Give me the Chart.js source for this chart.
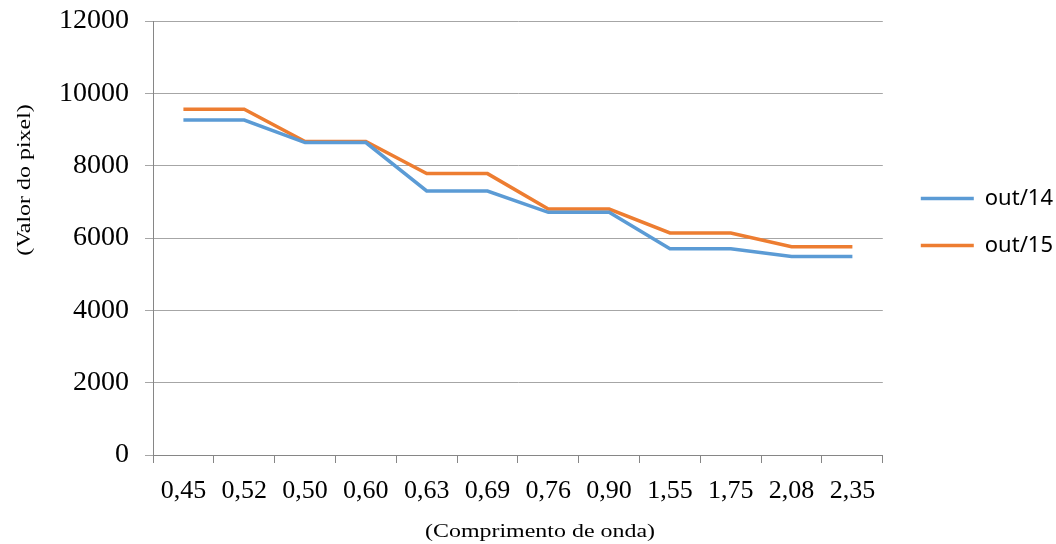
<!DOCTYPE html>
<html>
<head>
<meta charset="utf-8">
<script src="https://cdn.jsdelivr.net/npm/chart.js@4/dist/chart.umd.min.js"></script>
<style>
  html, body { margin: 0; padding: 0; background: #fff; }
</style>
</head>
<body>
<canvas id="myChart" width="1056" height="544"></canvas>
<script>
const wavelengths = ['0,45', '0,52', '0,50', '0,60', '0,63', '0,69', '0,76', '0,90', '1,55', '1,75', '2,08', '2,35'];
const out14 = [9260, 9260, 8640, 8640, 7300, 7300, 6710, 6710, 5700, 5700, 5490, 5490];
const out15 = [9560, 9560, 8670, 8670, 7780, 7780, 6800, 6800, 6140, 6140, 5760, 5760];
const yMin = 0;
const yMax = 12000;
const yStep = 2000;

const serif = "'Liberation Serif', 'Times New Roman', serif";

// axis titles in the original are a little stretched sideways, draw them by hand
function stretchedText(ctx, text, x, y, angle) {
  ctx.save();
  ctx.translate(x, y);
  ctx.rotate(angle);
  ctx.scale(1.33, 1);
  ctx.font = '18px ' + serif;
  ctx.fillStyle = '#000';
  ctx.textAlign = 'center';
  ctx.textBaseline = 'middle';
  ctx.fillText(text, 0, 0);
  ctx.restore();
}

const axisTitles = {
  id: 'axisTitles',
  afterDraw(chart) {
    stretchedText(chart.ctx, '(Valor do pixel)', 25, 180, -Math.PI / 2);
    stretchedText(chart.ctx, '(Comprimento de onda)', 540, 532, 0);
  }
};

const ctx = document.getElementById('myChart').getContext('2d');
new Chart(ctx, {
  type: 'line',
  data: {
    labels: wavelengths,
    datasets: [
      {
        label: 'out/14',
        data: out14,
        borderColor: '#5b9bd5',
        backgroundColor: '#5b9bd5',
        borderWidth: 3.5,
        pointRadius: 0,
        tension: 0,
        fill: false
      },
      {
        label: 'out/15',
        data: out15,
        borderColor: '#ed7d31',
        backgroundColor: '#ed7d31',
        borderWidth: 3.5,
        pointRadius: 0,
        tension: 0,
        fill: false
      }
    ]
  },
  options: {
    responsive: false,
    animation: false,
    layout: { padding: { top: 21, right: -7, left: 0, bottom: 0 } },
    plugins: {
      tooltip: { enabled: false },
      legend: {
        position: 'right',
        align: 'start',
        title: {
          display: true,
          text: '',
          padding: { top: 127, bottom: 0 }
        },
        labels: {
          boxWidth: 53,
          boxHeight: 3.5,
          padding: 25,
          color: '#000',
          font: { family: "'Noto Sans', sans-serif", size: 22 },
          // thin line sample, no extra border round it
          generateLabels(chart) {
            return Chart.defaults.plugins.legend.labels.generateLabels(chart)
              .map(item => ({ ...item, lineWidth: 0 }));
          }
        }
      }
    },
    scales: {
      x: {
        offset: true,
        grid: {
          offset: true,
          drawOnChartArea: false,
          tickLength: 8,
          color: '#868686'
        },
        border: { color: '#868686' },
        ticks: {
          color: '#000',
          padding: 13,
          maxRotation: 0,
          autoSkip: false,
          font: { family: serif, size: 26 }
        },
        afterFit(scale) { scale.height = 89; }
      },
      y: {
        min: yMin,
        max: yMax,
        grid: {
          color: '#a6a6a6',
          tickLength: 8
        },
        border: { color: '#868686' },
        ticks: {
          stepSize: yStep,
          color: '#000',
          padding: 16,
          font: { family: serif, size: 28 },
          callback: value => String(value)
        },
        afterFit(scale) {
          scale.width = 153;
          scale.paddingTop = 0;
          scale.paddingBottom = 0;
        }
      },
      // empty axis, only keeps a little room between plot and legend
      gap: {
        position: 'right',
        display: true,
        grid: { display: false },
        border: { display: false },
        ticks: { display: false },
        afterFit(scale) { scale.width = 13; }
      }
    }
  },
  plugins: [axisTitles]
});
</script>
</body>
</html>
